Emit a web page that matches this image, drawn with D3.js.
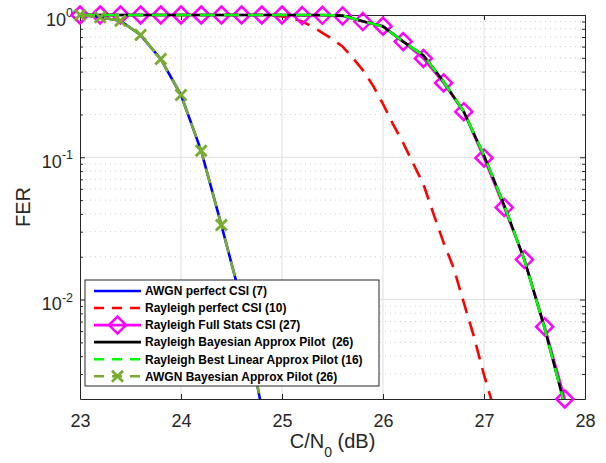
<!DOCTYPE html>
<html><head><meta charset="utf-8">
<script src="https://cdn.jsdelivr.net/npm/d3@7"></script>
<style>
body{margin:0;background:#fff}
svg{display:block}
text{font-family:"Liberation Sans",Arial,Helvetica,sans-serif}
</style>
</head><body>
<svg id="c" width="606" height="463"></svg>
<script>
// ---------- data ----------
const xTicks = [23, 24, 25, 26, 27, 28];
const xTickLabels = ["23", "24", "25", "26", "27", "28"];
const yTicks = [0.01, 0.1, 1];
const yTickExps = ["-2", "-1", "0"];
const yMinor = [0.003,0.004,0.005,0.006,0.007,0.008,0.009,0.02,0.03,0.04,0.05,0.06,0.07,0.08,0.09,0.2,0.3,0.4,0.5,0.6,0.7,0.8,0.9];

const xAwgn = [23, 23.2, 23.4, 23.6, 23.8, 24.0, 24.2, 24.4, 24.6, 24.8];
const awgnPerfectCSI = [1, 0.963, 0.912, 0.723, 0.49, 0.274, 0.111, 0.0334, 0.0096, 0.0017];
const awgnBayesPilot = [1, 0.963, 0.912, 0.723, 0.49, 0.274, 0.111, 0.0334, 0.0096, 0.0017];

const xRayPerfect = [23, 24, 24.8, 24.9, 25.0, 25.1, 25.2, 25.3, 25.4, 25.5, 25.6, 25.7, 25.8, 25.9,
  26.0, 26.1, 26.2, 26.3, 26.4, 26.5, 26.6, 26.7, 26.8, 26.9, 27.0, 27.1];
const rayPerfectCSI = [1, 1, 1, 0.995, 0.977, 0.944, 0.90, 0.83, 0.75, 0.676, 0.60, 0.50, 0.41, 0.32,
  0.237, 0.17, 0.126, 0.090, 0.0646, 0.040, 0.0251, 0.0166, 0.0095, 0.0055, 0.00295, 0.0017];

const xRay = [23.0, 23.2, 23.4, 23.6, 23.8, 24.0, 24.2, 24.4, 24.6, 24.8, 25.0, 25.2, 25.4, 25.6,
  25.8, 26.0, 26.2, 26.4, 26.6, 26.8, 27.0, 27.2, 27.4, 27.6, 27.8];
const rayFullStats = [1, 1, 1, 1, 1, 1, 1, 1, 1, 1, 1, 0.99, 0.995, 0.985,
  0.90, 0.835, 0.65, 0.495, 0.333, 0.209, 0.099, 0.0444, 0.0191, 0.00645, 0.002];
const rayBayesPilot = [1, 1, 1, 1, 1, 1, 1, 1, 1, 1, 1, 1, 1, 0.99,
  0.905, 0.83, 0.65, 0.52, 0.34, 0.209, 0.103, 0.046, 0.019, 0.0063, 0.0018];
const rayBestLinear = [1, 1, 1, 1, 1, 1, 1, 1, 1, 1, 1, 1, 1, 0.99,
  0.905, 0.83, 0.65, 0.52, 0.34, 0.209, 0.103, 0.046, 0.019, 0.0063, 0.0018];

const legendLabels = [
  "AWGN perfect CSI (7)",
  "Rayleigh perfect CSI (10)",
  "Rayleigh Full Stats CSI (27)",
  "Rayleigh Bayesian Approx Pilot  (26)",
  "Rayleigh Best Linear Approx Pilot (16)",
  "AWGN Bayesian Approx Pilot (26)"
];

// ---------- setup ----------
const svg = d3.select("#c");
const L = 80, R = 585, T = 15, B = 399;
const x = d3.scaleLinear().domain([23, 28]).range([L, R]);
const y = d3.scaleLog().domain([0.002, 1]).range([B, T]);
const axisCol = "#262626";

svg.append("rect").attr("width", 606).attr("height", 463).attr("fill", "#fff");

// grid
const grid = svg.append("g");
grid.selectAll(".mg").data(yMinor).join("line")
  .attr("x1", L).attr("x2", R).attr("y1", d => y(d)).attr("y2", d => y(d))
  .attr("stroke", "#c4c4c4").attr("stroke-width", 0.8).attr("stroke-dasharray", "1,4");
grid.selectAll(".gx").data(xTicks.slice(1, -1)).join("line")
  .attr("x1", d => x(d)).attr("x2", d => x(d)).attr("y1", T).attr("y2", B)
  .attr("stroke", "#dfdfdf").attr("stroke-width", 1);
grid.selectAll(".gy").data(yTicks.slice(0, -1)).join("line")
  .attr("x1", L).attr("x2", R).attr("y1", d => y(d)).attr("y2", d => y(d))
  .attr("stroke", "#dfdfdf").attr("stroke-width", 1);

// axes
function styleAxis(g) {
  g.selectAll("path").attr("stroke", axisCol).attr("stroke-width", 1);
  g.selectAll("line").attr("stroke", axisCol).attr("stroke-width", 1);
}
const xb = svg.append("g").attr("transform", `translate(0,${B})`)
  .call(d3.axisBottom(x).tickValues(xTicks).tickSize(-5).tickSizeOuter(0)
    .tickPadding(15).tickFormat((d, i) => xTickLabels[i]));
styleAxis(xb);
xb.selectAll("text").attr("font-size", 18).attr("fill", axisCol);
const xt = svg.append("g").attr("transform", `translate(0,${T})`)
  .call(d3.axisTop(x).tickValues(xTicks).tickSize(-5).tickSizeOuter(0).tickFormat(""));
styleAxis(xt);

const yl = svg.append("g").attr("transform", `translate(${L},0)`)
  .call(d3.axisLeft(y).tickValues(yTicks).tickSize(-5).tickSizeOuter(0).tickFormat(""));
styleAxis(yl);
const ylm = svg.append("g").attr("transform", `translate(${L},0)`)
  .call(d3.axisLeft(y).tickValues(yMinor).tickSize(-3).tickSizeOuter(0).tickFormat(""));
styleAxis(ylm); ylm.select("path").remove();
const yr = svg.append("g").attr("transform", `translate(${R},0)`)
  .call(d3.axisRight(y).tickValues(yTicks).tickSize(-5).tickSizeOuter(0).tickFormat(""));
styleAxis(yr);
const yrm = svg.append("g").attr("transform", `translate(${R},0)`)
  .call(d3.axisRight(y).tickValues(yMinor).tickSize(-3).tickSizeOuter(0).tickFormat(""));
styleAxis(yrm); yrm.select("path").remove();

// y tick labels with superscripts
yTicks.forEach((v, i) => {
  const t = svg.append("text").attr("x", 73).attr("y", y(v) + 10.5)
    .attr("text-anchor", "end").attr("fill", axisCol).attr("font-size", 18);
  t.append("tspan").text("10");
  t.append("tspan").attr("font-size", 12.5).attr("dy", -8.5).text(yTickExps[i]);
});

// axis labels
const xl = svg.append("text").attr("x", (L + R) / 2).attr("y", 448)
  .attr("text-anchor", "middle").attr("fill", axisCol).attr("font-size", 20);
xl.append("tspan").text("C/N");
xl.append("tspan").attr("font-size", 14).attr("dy", 9).text("0");
xl.append("tspan").attr("dy", -9).text(" (dB)");

svg.append("text").attr("transform", `translate(30,${(T + B) / 2}) rotate(-90)`)
  .attr("text-anchor", "middle").attr("fill", axisCol).attr("font-size", 20).text("FER");

// ---------- series ----------
svg.append("clipPath").attr("id", "clip").append("rect")
  .attr("x", L - 2).attr("y", T - 4).attr("width", R - L + 4).attr("height", B - T + 4);

const series = [
  {xs: xAwgn, ys: awgnPerfectCSI, color: "#0000ff", dash: null, marker: null},
  {xs: xRayPerfect, ys: rayPerfectCSI, color: "#ff0000", dash: "15,9", marker: null},
  {xs: xRay, ys: rayFullStats, color: "#ff00ff", dash: null, marker: "diamond"},
  {xs: xRay, ys: rayBayesPilot, color: "#000000", dash: null, marker: null},
  {xs: xRay, ys: rayBestLinear, color: "#00ff00", dash: "15,9", marker: null},
  {xs: xAwgn, ys: awgnBayesPilot, color: "#77ac30", dash: "15,9", marker: "x"}
];
const lw = 2.6;
const line = d3.line().x(d => x(d[0])).y(d => y(d[1]));
const plot = svg.append("g");

function drawMarker(g, type, cx, cy, color) {
  if (type === "diamond") {
    const s = 8.5;
    g.append("path").attr("d", `M${cx},${cy - s}L${cx + s},${cy}L${cx},${cy + s}L${cx - s},${cy}Z`)
      .attr("fill", "none").attr("stroke", color).attr("stroke-width", 2.5);
  } else if (type === "x") {
    const s = 5.5;
    g.append("path").attr("d", `M${cx - s},${cy - s}L${cx + s},${cy + s}M${cx - s},${cy + s}L${cx + s},${cy - s}`)
      .attr("fill", "none").attr("stroke", color).attr("stroke-width", 2.8);
  }
}

series.forEach(s => {
  const pts = s.xs.map((v, i) => [v, s.ys[i]]);
  const p = plot.append("path").datum(pts).attr("d", line)
    .attr("fill", "none").attr("stroke", s.color).attr("stroke-width", lw)
    .attr("clip-path", "url(#clip)").attr("stroke-linejoin", "round");
  if (s.dash) p.attr("stroke-dasharray", s.dash);
  if (s.marker) {
    pts.filter(d => d[1] >= 0.002 && d[1] <= 1).forEach(d =>
      drawMarker(plot, s.marker, x(d[0]), y(d[1]), s.color));
  }
});

// ---------- legend ----------
const lg = svg.append("g");
lg.append("rect").attr("x", 85).attr("y", 280).attr("width", 294).attr("height", 106)
  .attr("fill", "#fff").attr("stroke", axisCol).attr("stroke-width", 1);
legendLabels.forEach((lab, i) => {
  const s = series[i];
  const cy = 291 + i * 17.05;
  const ln = lg.append("line").attr("x1", 94).attr("x2", 141).attr("y1", cy).attr("y2", cy)
    .attr("stroke", s.color).attr("stroke-width", lw);
  if (s.dash) ln.attr("stroke-dasharray", "10,8");
  if (s.marker) drawMarker(lg, s.marker, 117.5, cy, s.color);
  lg.append("text").attr("x", 145).attr("y", cy).attr("dy", "0.36em")
    .attr("font-size", 12).attr("font-weight", "bold").attr("fill", "#000")
    .style("white-space", "pre").text(lab);
});
</script>
</body></html>
